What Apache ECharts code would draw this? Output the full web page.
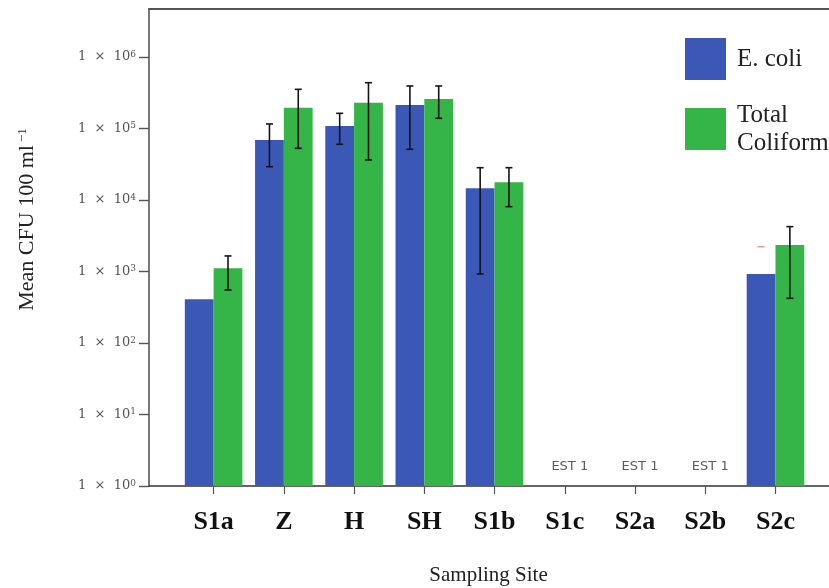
<!DOCTYPE html>
<html>
<head>
<meta charset="utf-8">
<script src="https://cdn.jsdelivr.net/npm/echarts@6/dist/echarts.min.js"></script>
<style>
  html, body { margin: 0; padding: 0; background: #ffffff; }
  #chart { width: 829px; height: 588px; }
</style>
</head>
<body>
<div id="chart"></div>
<script>
// Sampling sites along the x axis
const sites = ['S1a', 'Z', 'H', 'SH', 'S1b', 'S1c', 'S2a', 'S2b', 'S2c'];

// Mean CFU per 100 ml, E. coli
const ecoli = [408, 69000, 108000, 213000, 14600, null, null, null, 923];
const ecoliErrLow = [null, 29200, 60100, 51200, 923, null, null, null, null];
const ecoliErrHigh = [null, 115700, 163000, 393000, 28300, null, null, null, null];
// lone upper whisker cap on the S2c E. coli bar
const ecoliCapOnly = [null, null, null, null, null, null, null, null, 2220];

// Mean CFU per 100 ml, total coliform
const coliform = [1110, 195000, 230000, 259000, 17700, null, null, null, 2350];
const coliformErrLow = [551, 52800, 36300, 139000, 8070, null, null, null, 422];
const coliformErrHigh = [1650, 353000, 437000, 393000, 28300, null, null, null, 4240];

// sites reported as an estimate of 1 CFU
const estimated = [null, null, null, null, null, 1, 1, 1, null];

// log-axis tick values
const yTicks = [1, 10, 100, 1000, 10000, 100000, 1000000];
const yMax = 4.69e6;

const BLUE = '#3c58b6';
const GREEN = '#35b548';
const CATEGORY_GAP = 0.18;

function errorItems(low, high, slot) {
  const out = [];
  low.forEach((lo, i) => {
    if (lo != null && high[i] != null) out.push([i, lo, high[i], slot]);
  });
  return out;
}
function capItems(vals, slot) {
  const out = [];
  vals.forEach((v, i) => { if (v != null) out.push([i, v, v, slot]); });
  return out;
}

// whisker drawn at the centre of the blue (slot 0) or green (slot 1) bar
function renderWhisker(params, api) {
  const cat = api.value(0);
  const slot = api.value(3);
  const band = api.size([1, 0])[0];
  const barW = band * (1 - CATEGORY_GAP) / 2;
  const hi = api.coord([cat, api.value(2)]);
  const lo = api.coord([cat, api.value(1)]);
  const x = hi[0] + (slot === 0 ? -barW / 2 : barW / 2);
  const cap = 3.5;
  const style = { stroke: api.visual('color'), lineWidth: 1.6 };
  const children = [
    { type: 'line', shape: { x1: x - cap, y1: hi[1], x2: x + cap, y2: hi[1] }, style: style }
  ];
  if (Math.abs(lo[1] - hi[1]) > 0.5) {
    children.push({ type: 'line', shape: { x1: x, y1: hi[1], x2: x, y2: lo[1] }, style: style });
    children.push({ type: 'line', shape: { x1: x - cap, y1: lo[1], x2: x + cap, y2: lo[1] }, style: style });
  }
  return { type: 'group', children: children };
}

const chart = echarts.init(document.getElementById('chart'), null, { renderer: 'canvas' });

const serif = 'Liberation Serif, Times New Roman, serif';
const wideSerif = 'DejaVu Serif, serif';

chart.setOption({
  animation: false,
  backgroundColor: '#ffffff',
  grid: [
    { left: 178.5, right: 18.4, top: 9, bottom: 102, containLabel: false, outerBoundsMode: 'none' },
    { left: 149, right: 0, top: 9, bottom: 102, containLabel: false, outerBoundsMode: 'none' }
  ],
  legend: {
    data: ['E. coli', 'Total Coliform'],
    orient: 'vertical',
    left: 680,
    top: 33,
    icon: 'rect',
    itemWidth: 41,
    itemHeight: 42,
    itemGap: 21,
    selectedMode: false,
    formatter: name => name === 'Total Coliform' ? 'Total\nColiform' : name,
    textStyle: {
      fontFamily: serif,
      fontSize: 25,
      lineHeight: 28,
      color: '#222',
      padding: [0, 0, 0, 6]
    }
  },
  xAxis: [
    {
      gridIndex: 0,
      type: 'category',
      data: sites,
      axisLine: { show: false },
      axisTick: { show: true, alignWithLabel: true, length: 8, lineStyle: { color: '#555', width: 1.2 } },
      axisLabel: { fontFamily: serif, fontWeight: 'bold', fontSize: 26, color: '#111', margin: 23 },
      name: 'Sampling Site',
      nameLocation: 'middle',
      nameGap: 79,
      nameTextStyle: { fontFamily: serif, fontSize: 21, color: '#222', padding: [0, 12, 0, 0] }
    },
    {
      gridIndex: 1,
      type: 'value',
      min: 0, max: 1,
      position: 'bottom',
      axisLine: { show: true, lineStyle: { color: '#333', width: 1.5 } },
      axisTick: { show: false },
      axisLabel: { show: false },
      splitLine: { show: false }
    },
    {
      gridIndex: 1,
      type: 'value',
      min: 0, max: 1,
      position: 'top',
      axisLine: { show: true, lineStyle: { color: '#555', width: 2 } },
      axisTick: { show: false },
      axisLabel: { show: false },
      splitLine: { show: false }
    }
  ],
  yAxis: [
    {
      gridIndex: 1,
      type: 'log',
      logBase: 10,
      min: 1,
      max: yMax,
      axisLine: { show: true, lineStyle: { color: '#6a6a6a', width: 1.8 } },
      axisTick: { show: true, length: 10, customValues: yTicks, lineStyle: { color: '#555', width: 1.4 } },
      axisLabel: {
        customValues: yTicks,
        margin: 13,
        color: '#555',
        fontFamily: wideSerif,
        fontSize: 13,
        formatter: v => '1  \u00d7  10{sup|' + Math.round(Math.log10(v)) + '}',
        rich: { sup: { fontFamily: wideSerif, fontSize: 9, color: '#555', verticalAlign: 'top', padding: [0, 0, 5, 0] } }
      },
      splitLine: { show: false },
      name: 'Mean CFU 100 ml{sup|\u22121}',
      nameLocation: 'middle',
      nameGap: 110,
      nameTextStyle: {
        fontFamily: serif,
        fontSize: 22,
        color: '#222',
        padding: [0, 0, 0, 56],
        rich: { sup: { fontFamily: serif, fontSize: 13, color: '#222', verticalAlign: 'top', padding: [0, 0, 10, 3] } }
      }
    },
    {
      gridIndex: 0,
      type: 'log',
      logBase: 10,
      min: 1,
      max: yMax,
      show: false
    }
  ],
  series: [
    {
      name: 'E. coli',
      type: 'bar',
      xAxisIndex: 0,
      yAxisIndex: 1,
      data: ecoli,
      barGap: '0%',
      barCategoryGap: (CATEGORY_GAP * 100) + '%',
      itemStyle: { color: BLUE }
    },
    {
      name: 'Total Coliform',
      type: 'bar',
      xAxisIndex: 0,
      yAxisIndex: 1,
      data: coliform,
      barGap: '0%',
      barCategoryGap: (CATEGORY_GAP * 100) + '%',
      itemStyle: { color: GREEN }
    },
    {
      name: 'E. coli error',
      type: 'custom',
      xAxisIndex: 0,
      yAxisIndex: 1,
      renderItem: renderWhisker,
      itemStyle: { color: '#151515' },
      encode: { x: 0, y: [1, 2] },
      data: errorItems(ecoliErrLow, ecoliErrHigh, 0),
      z: 5
    },
    {
      name: 'Total Coliform error',
      type: 'custom',
      xAxisIndex: 0,
      yAxisIndex: 1,
      renderItem: renderWhisker,
      itemStyle: { color: '#151515' },
      encode: { x: 0, y: [1, 2] },
      data: errorItems(coliformErrLow, coliformErrHigh, 1),
      z: 5
    },
    {
      name: 'E. coli cap',
      type: 'custom',
      xAxisIndex: 0,
      yAxisIndex: 1,
      renderItem: renderWhisker,
      itemStyle: { color: '#e59a9a' },
      encode: { x: 0, y: [1, 2] },
      data: capItems(ecoliCapOnly, 0),
      z: 5
    },
    {
      name: 'Estimate',
      type: 'scatter',
      xAxisIndex: 0,
      yAxisIndex: 1,
      data: estimated,
      symbolSize: 1,
      itemStyle: { color: 'rgba(0,0,0,0)' },
      label: {
        show: true,
        position: 'top',
        distance: 12,
        offset: [5, 0],
        formatter: p => 'EST ' + p.value,
        fontFamily: 'DejaVu Sans, sans-serif',
        fontSize: 13,
        color: '#333'
      }
    }
  ]
});
</script>
</body>
</html>
